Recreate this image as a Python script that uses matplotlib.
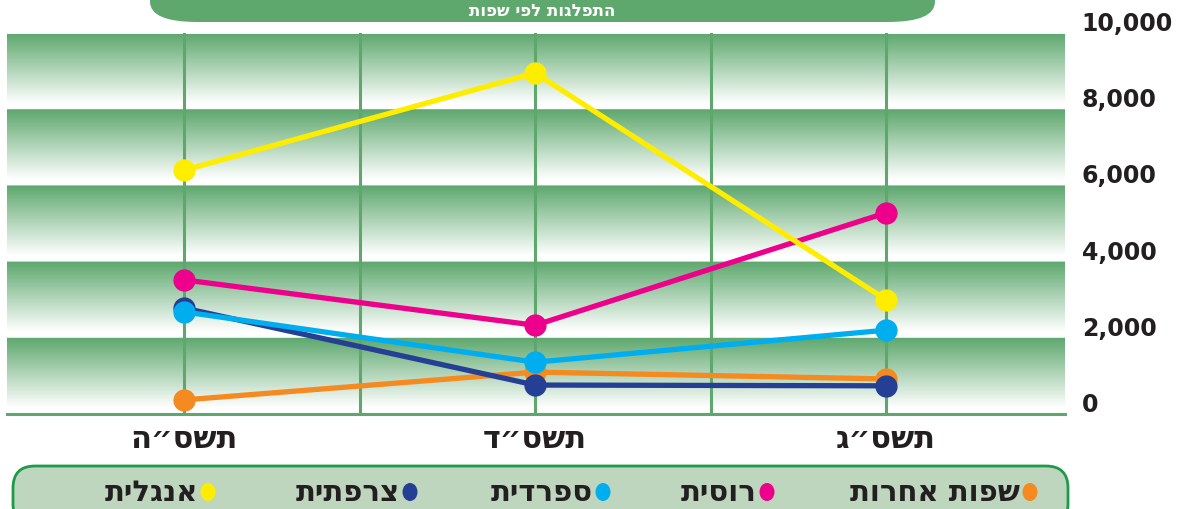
import numpy as np
import matplotlib
matplotlib.use('Agg')
import matplotlib.pyplot as plt
from matplotlib.colors import LinearSegmentedColormap
from matplotlib.patches import FancyBboxPatch, Ellipse
from matplotlib.transforms import ScaledTranslation

# שנים (מימין לשמאל בגרף)
years = ['תשס״ג', 'תשס״ד', 'תשס״ה']

# ערכים לכל שפה
english = [3000, 8950, 6400]
russian = [5280, 2330, 3520]
sephardic = [2200, 1360, 2680]
french = [740, 760, 2780]
other = [920, 1100, 370]

series = [
    ('שפות אחרות', other, '#f58a20'),
    ('רוסית', russian, '#ec008c'),
    ('ספרדית', sephardic, '#00aeef'),
    ('צרפתית', french, '#243f93'),
    ('אנגלית', english, '#ffed00'),
]
# סדר הציור (מלמטה למעלה)
draw_order = ['שפות אחרות', 'צרפתית', 'ספרדית', 'רוסית', 'אנגלית']

yticks = [0, 2000, 4000, 6000, 8000, 10000]
title = 'התפלגות לפי שפות'

green = '#5ea86e'


def heb(s):
    # matplotlib לא מטפל בכיווניות, הופכים ידנית
    return s[::-1]


W, H = 1184, 509
fig = plt.figure(figsize=(W / 100, H / 100), dpi=100)
plt.rcParams['font.family'] = ['DejaVu Sans']

ax = fig.add_axes([7 / W, 1 - 414 / H, (1065 - 7) / W, (414 - 33) / H])
x = np.arange(len(years))
ax.set_xlim(2.505, -0.51)
ax.set_ylim(0, 10000)

# רקע מדורג בכל רצועה של 2000
n = 400
frac = (np.linspace(0, 10000, n) % 2000) / 2000.0
grad = frac.reshape(-1, 1)
cmap = LinearSegmentedColormap.from_list('g', [(0, 'white'), (0.08, 'white'), (1, green)])
ax.imshow(grad, aspect='auto', cmap=cmap, origin='lower',
          extent=[2.505, -0.51, 0, 10000], interpolation='bilinear', zorder=0)

for gx in np.arange(0, 2.5, 0.5):
    ax.axvline(gx, color=green, lw=2.2, zorder=1)

lookup = {name: (vals, col) for name, vals, col in series}
for name in draw_order:
    vals, col = lookup[name]
    ax.plot(x, vals, color=col, lw=3.8, marker='o', ms=15, zorder=3,
            solid_capstyle='round')

for s in ['top', 'left', 'right']:
    ax.spines[s].set_visible(False)
ax.spines['bottom'].set_color(green)
ax.spines['bottom'].set_linewidth(2.2)
ax.set_xticks(x)
ax.set_xticklabels([heb(y) for y in years], fontsize=22, fontweight='bold', color='#231f20')
ax.tick_params(axis='x', length=0, pad=8)
ax.yaxis.tick_right()
ax.set_yticks(yticks)
ax.set_yticklabels([f'{v:,}' for v in yticks], fontsize=17, fontweight='bold', color='#231f20',
                   va='center')
ax.tick_params(axis='y', length=0, pad=12)
shift = ScaledTranslation(0, 9 / 100, fig.dpi_scale_trans)
for lab in ax.get_yticklabels():
    lab.set_transform(lab.get_transform() + shift)

# כותרת
fig.patches.append(FancyBboxPatch((150 / W, 1 - 22 / H), (935 - 150) / W, 60 / H,
                                  boxstyle='round,pad=0,rounding_size=0.04',
                                  transform=fig.transFigure, facecolor=green,
                                  edgecolor='none', zorder=0))
fig.text(542 / W, 1 - 11 / H, heb(title), ha='center', va='center', color='white',
         fontsize=12, fontweight='bold')

# מקרא
lax = fig.add_axes([0, 0, 1, 1], zorder=-1)
lax.set_xlim(0, W)
lax.set_ylim(H, 0)
lax.axis('off')
lax.add_patch(FancyBboxPatch((13, 466), 1055, 60, boxstyle='round,pad=0,rounding_size=22',
                             facecolor='#bdd6bd', edgecolor='#1e9a4b', lw=2))
marker_x = {'שפות אחרות': 1030, 'רוסית': 767, 'ספרדית': 603, 'צרפתית': 410, 'אנגלית': 208}
for name, vals, col in series:
    mx = marker_x[name]
    lax.add_patch(Ellipse((mx, 492), 15, 18, facecolor=col, edgecolor='none'))
    lax.text(mx - 10, 493, heb(name), ha='right', va='center', fontsize=21,
             fontweight='bold', color='#231f20')

fig.savefig('out.png', dpi=100)
